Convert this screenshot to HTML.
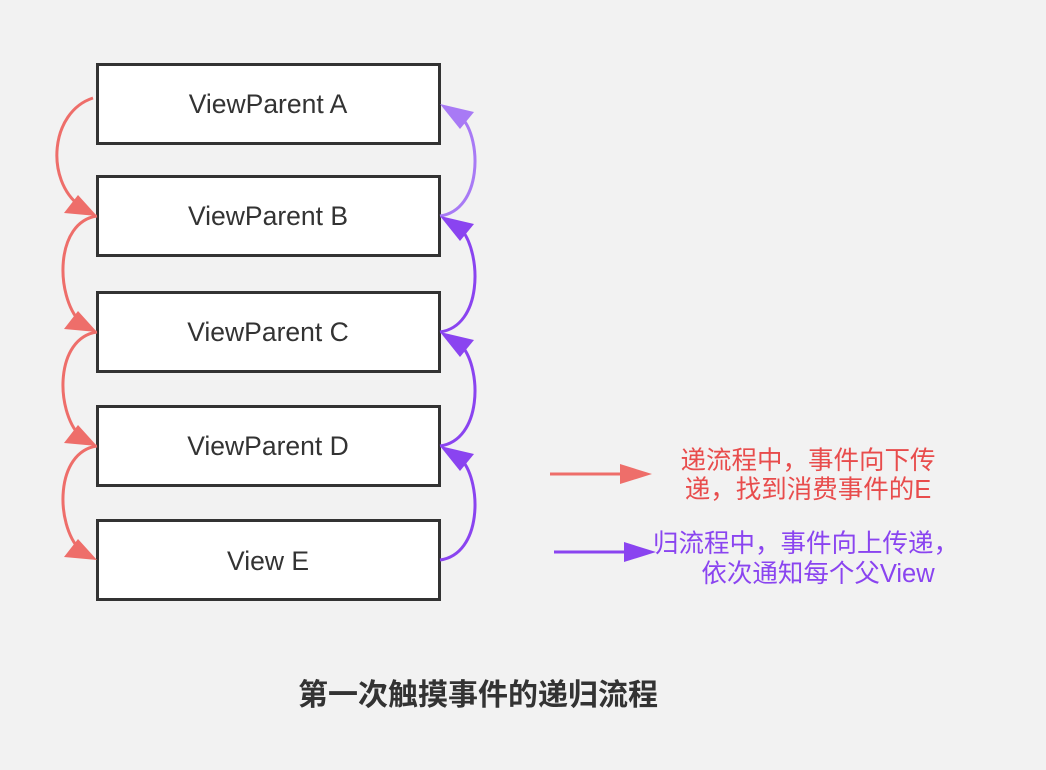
<!DOCTYPE html>
<html><head><meta charset="utf-8"><style>
body{margin:0;background:#f2f2f2;}
svg{display:block}
text{font-family:"Liberation Sans","Noto Sans CJK SC",sans-serif}
</style></head><body>
<svg width="1046" height="770" viewBox="0 0 1046 770" xmlns="http://www.w3.org/2000/svg">
<rect width="1046" height="770" fill="#f2f2f2"/>
<g fill="#fff" stroke="#333" stroke-width="3">
<rect x="97.5" y="64.5" width="342" height="79"/>
<rect x="97.5" y="176.5" width="342" height="79"/>
<rect x="97.5" y="292.5" width="342" height="79"/>
<rect x="97.5" y="406.5" width="342" height="79"/>
<rect x="97.5" y="520.5" width="342" height="79"/>
</g>
<g fill="#333" font-size="26.5" text-anchor="middle">
<text x="268" y="113">ViewParent A</text>
<text x="268" y="225">ViewParent B</text>
<text x="268" y="341">ViewParent C</text>
<text x="268" y="455">ViewParent D</text>
<text x="268" y="570">View E</text>
</g>
<g fill="none" stroke="#ee6e6a" stroke-width="3">
<path d="M93,98 C50,112 45,180 80,206"/>
<path d="M97,216 C55,222 55,295 80,322"/>
<path d="M97,332 C55,338 55,410 80,436"/>
<path d="M97,446 C55,452 55,524 80,550"/>
</g>
<g fill="#ee6e6a">
<polygon points="97,216 64,213 78,195"/>
<polygon points="97,332 64,329 78,311"/>
<polygon points="97,446 64,443 78,425"/>
<polygon points="97,560 64,557 78,539"/>
</g>
<g fill="none" stroke-width="3">
<path d="M440,216 C482,210 482,140 462,118" stroke="#a87af5"/>
<path d="M440,332 C482,326 482,256 462,230" stroke="#8a44f0"/>
<path d="M440,446 C482,440 482,370 462,346" stroke="#8a44f0"/>
<path d="M440,560 C482,554 482,484 462,460" stroke="#8a44f0"/>
</g>
<polygon points="440,104 474,112 460,129" fill="#a87af5"/>
<g fill="#8a44f0">
<polygon points="440,216 474,224 460,241"/>
<polygon points="440,332 474,340 460,357"/>
<polygon points="440,446 474,454 460,471"/>
</g>
<line x1="550" y1="474" x2="622" y2="474" stroke="#ee6e6a" stroke-width="3"/>
<polygon points="652,474 620,464 620,484" fill="#ee6e6a"/>
<line x1="554" y1="552" x2="626" y2="552" stroke="#8a44f0" stroke-width="3"/>
<polygon points="656,552 624,542 624,562" fill="#8a44f0"/>
<g font-size="25.5" text-anchor="middle">
<text x="808" y="469" fill="#e84c4c">递流程中，事件向下传</text>
<text x="808" y="498" fill="#e84c4c">递，找到消费事件的E</text>
<text x="806" y="552" fill="#8a44f0">归流程中，事件向上传递，</text>
<text x="818" y="582" fill="#8a44f0">依次通知每个父View</text>
</g>
<text x="478" y="705" font-size="30" font-weight="bold" fill="#333" text-anchor="middle">第一次触摸事件的递归流程</text>
</svg>
</body></html>
